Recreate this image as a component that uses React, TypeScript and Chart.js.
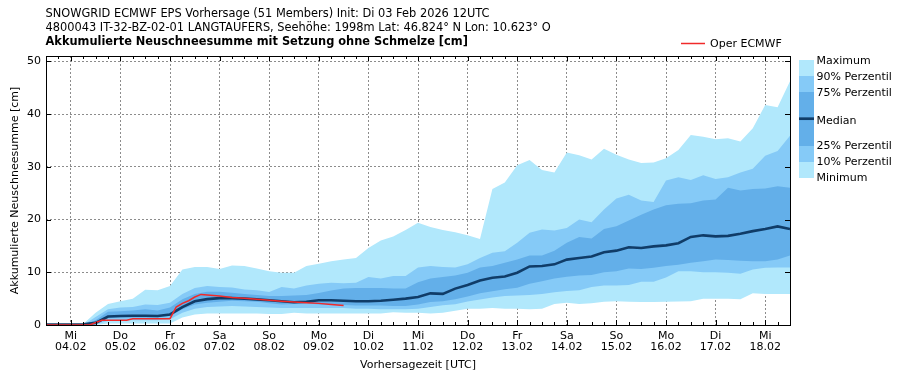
import React, { useEffect, useRef } from 'react';
import { Chart, registerables } from 'chart.js';

Chart.register(...registerables);

const FONT = '"DejaVu Sans", "Liberation Sans", sans-serif';

// ---------- text ----------
const titleLine1 = 'SNOWGRID ECMWF EPS Vorhersage (51 Members) Init: Di 03 Feb 2026 12UTC';
const titleLine2 = '4800043 IT-32-BZ-02-01 LANGTAUFERS, Seehöhe: 1998m Lat: 46.824° N Lon: 10.623° O';
const titleLine3 = 'Akkumulierte Neuschneesumme mit Setzung ohne Schmelze [cm]';
const yAxisTitle = 'Akkumulierte Neuschneesumme [cm]';
const xAxisTitle = 'Vorhersagezeit [UTC]';
const operLabel = 'Oper ECMWF';
const bandLegendLabels = ['Maximum', '90% Perzentil', '75% Perzentil', 'Median', '25% Perzentil', '10% Perzentil', 'Minimum'];

// ---------- x categories (6-hourly steps since init 03.02 12UTC) ----------
const steps = [
  0, 1, 2, 3, 4, 5, 6, 7, 8, 9, 10, 11, 12, 13, 14, 15, 16, 17, 18, 19, 20,
  21, 22, 23, 24, 25, 26, 27, 28, 29, 30, 31, 32, 33, 34, 35, 36, 37, 38, 39, 40,
  41, 42, 43, 44, 45, 46, 47, 48, 49, 50, 51, 52, 53, 54, 55, 56, 57, 58, 59, 60,
];
const dayTickSteps = [2, 6, 10, 14, 18, 22, 26, 30, 34, 38, 42, 46, 50, 54, 58];
const dayLabels = [
  ['Mi', '04.02'], ['Do', '05.02'], ['Fr', '06.02'], ['Sa', '07.02'], ['So', '08.02'],
  ['Mo', '09.02'], ['Di', '10.02'], ['Mi', '11.02'], ['Do', '12.02'], ['Fr', '13.02'],
  ['Sa', '14.02'], ['So', '15.02'], ['Mo', '16.02'], ['Di', '17.02'], ['Mi', '18.02'],
];
const yTicks = [0, 10, 20, 30, 40, 50];

// ---------- series ----------
const maximum = [
  0, 0, 0, 0.2, 2.3, 4.0, 4.5, 5.0, 6.7, 6.6, 7.4,
  10.5, 11.0, 11.0, 10.6, 11.3, 11.2, 10.7, 10.2, 9.9, 9.9,
  11.2, 11.6, 12.1, 12.4, 12.7, 14.6, 16.0, 16.8, 18.0, 19.4,
  18.6, 18.0, 17.6, 17.0, 16.3, 25.8, 27.0, 30.3, 31.3, 29.4,
  28.9, 32.7, 32.2, 31.4, 33.4, 32.3, 31.4, 30.7, 30.8, 31.6,
  33.2, 36.0, 35.7, 35.2, 35.4, 34.8, 37.3, 41.7, 41.3, 46.2,
];
const p90 = [
  0, 0, 0, 0, 1.5, 3.0, 3.3, 3.4, 3.9, 3.8, 4.2,
  5.9, 7.0, 7.4, 7.2, 7.1, 6.75, 6.6, 6.25, 7.2, 6.9,
  7.5, 7.8, 8.0, 7.9, 8.0, 9.1, 8.8, 9.3, 9.3, 10.9,
  11.2, 11.0, 10.9, 11.5, 12.7, 13.7, 14.0, 15.6, 17.5, 18.1,
  17.9, 18.4, 20.0, 19.5, 21.9, 24.0, 24.7, 23.6, 23.3, 27.4,
  28.0, 27.5, 28.4, 27.7, 28.0, 28.9, 29.6, 32.1, 33.0, 35.9,
];
const p75 = [
  0, 0, 0, 0, 0.9, 2.5, 2.6, 2.75, 3.0, 2.75, 3.3,
  4.9, 5.9, 6.3, 6.3, 6.1, 5.9, 5.7, 5.5, 5.5, 5.6,
  5.7, 6.05, 6.55, 6.9, 7.0, 7.0, 7.0, 6.9, 6.9, 8.1,
  8.8, 9.1, 9.4, 9.9, 10.9, 11.2, 11.8, 12.4, 13.2, 13.2,
  14.1, 15.6, 16.7, 16.4, 18.2, 18.7, 19.8, 20.9, 21.9, 22.7,
  23.0, 23.1, 23.6, 23.8, 26.0, 25.5, 25.8, 25.9, 26.3, 26.0,
];
const median = [
  0.1, 0.1, 0.1, 0.15, 0.4, 1.6, 1.7, 1.75, 1.75, 1.7, 2.0,
  3.4, 4.5, 4.9, 5.1, 5.1, 5.0, 4.85, 4.7, 4.5, 4.3,
  4.4, 4.7, 4.7, 4.6, 4.5, 4.5, 4.6, 4.8, 5.0, 5.3,
  6.0, 5.9, 6.9, 7.6, 8.45, 8.95, 9.2, 9.9, 11.1, 11.2,
  11.5, 12.4, 12.7, 13.0, 13.8, 14.1, 14.75, 14.6, 14.9, 15.1,
  15.5, 16.7, 17.0, 16.8, 16.9, 17.3, 17.8, 18.2, 18.7, 18.2,
];
const p25 = [
  0, 0, 0, 0, 0.2, 1.3, 1.4, 1.4, 1.4, 1.4, 1.7,
  3.0, 3.9, 4.2, 4.4, 4.6, 4.5, 4.4, 4.1, 3.9, 4.0,
  4.1, 3.9, 3.8, 3.8, 3.7, 3.7, 3.7, 3.6, 3.6, 3.9,
  4.35, 4.5, 4.9, 5.4, 6.0, 6.4, 6.8, 7.05, 7.8, 8.3,
  8.8, 9.15, 9.4, 9.5, 10.0, 10.2, 10.7, 10.6, 10.85, 11.2,
  11.4, 11.8, 12.1, 12.4, 12.3, 12.2, 12.1, 12.1, 12.4, 13.2,
];
const p10 = [
  0, 0, 0, 0, 0.1, 0.8, 0.9, 0.9, 0.9, 0.9, 1.1,
  2.3, 3.1, 3.4, 3.5, 3.6, 3.5, 3.4, 3.3, 3.2, 3.2,
  3.2, 3.2, 3.2, 3.2, 3.1, 3.1, 3.0, 3.0, 3.0, 3.1,
  3.4, 3.75, 3.95, 4.45, 4.85, 5.2, 5.5, 5.6, 5.7, 5.9,
  6.2, 6.45, 6.6, 7.2, 7.5, 7.5, 7.6, 8.2, 8.2, 9.0,
  10.2, 10.2, 10.0, 10.0, 9.9, 9.7, 10.5, 10.85, 10.9, 10.9,
];
const minimum = [
  0, 0, 0, 0, 0, 0.3, 0.3, 0.3, 0.3, 0.3, 0.3,
  1.4, 2.0, 2.2, 2.2, 2.2, 2.2, 2.2, 2.1, 2.1, 2.3,
  2.2, 2.2, 2.2, 2.2, 2.2, 2.2, 2.2, 2.4, 2.3, 2.3,
  2.2, 2.3, 2.7, 3.1, 3.1, 3.2, 3.1, 3.1, 3.0, 3.1,
  4.0, 4.2, 4.0, 4.1, 4.4, 4.5, 4.4, 4.35, 4.35, 4.4,
  4.45, 4.5, 5.0, 5.0, 5.0, 4.9, 6.0, 5.9, 5.9, 5.9,
];
const operSteps = [
  0, 1, 2, 3, 3.5, 4.5, 5, 6, 6.5, 7, 8, 9, 10, 10.5, 11, 11.5, 12, 12.5,
  13, 14, 15, 16, 17, 18, 19, 20, 21, 22, 23, 24,
];
const operValues = [
  0, 0, 0, 0, 0, 0.9, 0.9, 0.9, 0.9, 1.2, 1.2, 1.2, 1.2, 3.4, 4.1, 4.6, 5.3, 5.8,
  5.7, 5.5, 5.2, 5.05, 4.9, 4.7, 4.5, 4.35, 4.2, 4.1, 3.9, 3.7,
];

// ---------- colours ----------
const C_OUTER = '#b1e8fc';
const C_MID = '#85caf7';
const C_INNER = '#63afe9';
const C_MEDIAN = '#103c68';
const C_OPER = '#f02a2a';
const C_GRID = '#8c8c8c';

const xy = (vals: number[]) => vals.map((v, i) => ({ x: steps[i], y: v }));

const decorPlugin = {
  id: 'decor',
  afterDraw(chart: any) {
    const { ctx, chartArea: a, scales } = chart;
    const xs = scales.x;
    const ys = scales.y;
    ctx.save();
    ctx.setLineDash([]);
    ctx.strokeStyle = '#000';
    ctx.lineWidth = 1;
    // inward tick marks
    ctx.beginPath();
    for (const s of steps) {
      const px = Math.round(xs.getPixelForValue(s)) + 0.5;
      const len = dayTickSteps.includes(s) ? 5 : 3;
      ctx.moveTo(px, a.bottom);
      ctx.lineTo(px, a.bottom - len);
      ctx.moveTo(px, a.top);
      ctx.lineTo(px, a.top + len);
    }
    for (const v of yTicks) {
      const py = Math.round(ys.getPixelForValue(v)) + 0.5;
      ctx.moveTo(a.left, py);
      ctx.lineTo(a.left + 5, py);
      ctx.moveTo(a.right, py);
      ctx.lineTo(a.right - 5, py);
    }
    ctx.stroke();
    // frame
    ctx.strokeRect(Math.round(a.left) + 0.5, Math.round(a.top) + 0.5, Math.round(a.right - a.left), Math.round(a.bottom - a.top));

    // titles
    ctx.fillStyle = '#000';
    ctx.textAlign = 'left';
    ctx.textBaseline = 'alphabetic';
    ctx.font = `11.4px ${FONT}`;
    ctx.fillText(titleLine1, 45.5, 16.5);
    ctx.fillText(titleLine2, 45.5, 30.5);
    ctx.font = `bold 11.4px ${FONT}`;
    ctx.fillText(titleLine3, 45.5, 44.8);

    // oper legend
    ctx.strokeStyle = C_OPER;
    ctx.lineWidth = 1.5;
    ctx.beginPath();
    ctx.moveTo(681, 43.5);
    ctx.lineTo(705, 43.5);
    ctx.stroke();
    ctx.font = `11px ${FONT}`;
    ctx.fillStyle = '#000';
    ctx.fillText(operLabel, 710, 47);

    // band legend
    const lx = 799;
    const lw = 15;
    const segs: [number, number, string][] = [
      [60, 76, C_OUTER], [76, 92, C_MID], [92, 146, C_INNER], [146, 162, C_MID], [162, 178, C_OUTER],
    ];
    for (const [t, b, c] of segs) {
      ctx.fillStyle = c;
      ctx.fillRect(lx, t, lw, b - t);
    }
    ctx.strokeStyle = C_MEDIAN;
    ctx.lineWidth = 2.7;
    ctx.beginPath();
    ctx.moveTo(lx, 118.7);
    ctx.lineTo(lx + lw, 118.7);
    ctx.stroke();
    const baselines = [64.3, 80, 95.7, 123.5, 149.3, 165, 181];
    ctx.fillStyle = '#000';
    bandLegendLabels.forEach((t, i) => ctx.fillText(t, 816.5, baselines[i]));
    ctx.restore();
  },
};

export default function App() {
  const ref = useRef<HTMLCanvasElement | null>(null);
  useEffect(() => {
    if (!ref.current) return;
    Chart.defaults.font.family = FONT;
    const band = (label: string, data: number[], color: string, fill: any) => ({
      label,
      data: xy(data),
      borderWidth: 0,
      borderColor: 'rgba(0,0,0,0)',
      backgroundColor: color,
      pointRadius: 0,
      fill,
      tension: 0,
    });
    const chart = new Chart(ref.current, {
      type: 'line',
      data: {
        datasets: [
          {
            label: operLabel,
            data: operSteps.map((s, i) => ({ x: s, y: operValues[i] })),
            borderColor: C_OPER,
            borderWidth: 1.5,
            pointRadius: 0,
            fill: false,
          },
          {
            label: 'Median',
            data: xy(median),
            borderColor: C_MEDIAN,
            borderWidth: 2.6,
            pointRadius: 0,
            fill: false,
          },
          band('75% Perzentil', p75, C_INNER, 3),
          band('25% Perzentil', p25, C_INNER, false),
          band('90% Perzentil', p90, C_MID, 5),
          band('10% Perzentil', p10, C_MID, false),
          band('Maximum', maximum, C_OUTER, 7),
          band('Minimum', minimum, C_OUTER, false),
        ] as any,
      },
      options: {
        animation: false,
        responsive: false,
        events: [],
        layout: { padding: { top: 56, right: 113, left: 0, bottom: 0 } },
        plugins: {
          legend: { display: false },
          title: { display: false },
          tooltip: { enabled: false },
        },
        scales: {
          x: {
            type: 'linear',
            min: 0,
            max: 60,
            z: 1,
            afterBuildTicks: (s: any) => {
              s.ticks = dayTickSteps.map((v) => ({ value: v }));
            },
            afterFit: (s: any) => {
              s.height = 55;
            },
            grid: { color: C_GRID, lineWidth: 1, drawTicks: false },
            border: { display: false, dash: [2, 2] },
            ticks: {
              autoSkip: false,
              maxRotation: 0,
              minRotation: 0,
              padding: 5,
              color: '#000',
              font: { family: FONT, size: 11, lineHeight: 1.05 },
              callback: (v: any) => {
                const k = dayTickSteps.indexOf(Number(v));
                return k >= 0 ? dayLabels[k] : '';
              },
            },
            title: {
              display: true,
              text: xAxisTitle,
              color: '#000',
              font: { family: FONT, size: 11 },
              padding: { top: 0, bottom: 8 },
            },
          },
          y: {
            type: 'linear',
            min: 0,
            max: 51,
            z: 1,
            afterBuildTicks: (s: any) => {
              s.ticks = yTicks.map((v) => ({ value: v }));
            },
            afterFit: (s: any) => {
              s.width = 46;
            },
            grid: {
              color: (c: any) => (c.tick && c.tick.value === 0 ? 'rgba(0,0,0,0)' : C_GRID),
              lineWidth: 1,
              drawTicks: false,
            },
            border: { display: false, dash: [2, 2] },
            ticks: {
              padding: 5,
              color: '#000',
              font: { family: FONT, size: 11 },
            },
            title: {
              display: true,
              text: yAxisTitle,
              color: '#000',
              font: { family: FONT, size: 11 },
              padding: { top: 9, bottom: 0 },
            },
          },
        },
      } as any,
      plugins: [decorPlugin],
    });
    return () => chart.destroy();
  }, []);
  return (
    <div style={{ position: 'absolute', left: 0, top: 0, width: 903, height: 380, background: '#fff' }}>
      <canvas ref={ref} width={903} height={380} />
    </div>
  );
}
